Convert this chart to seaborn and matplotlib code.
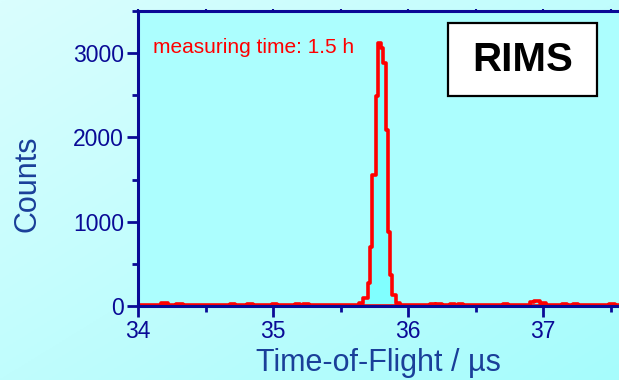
import numpy as np
import matplotlib.pyplot as plt
import matplotlib.patches as patches
from matplotlib.colors import LinearSegmentedColormap
from matplotlib.ticker import MultipleLocator
import seaborn as sns

# time-of-flight bin edges (us) and counts per bin
tof_edges = [34.00, 34.17, 34.22, 34.28, 34.33, 34.68, 34.72, 34.81, 34.85, 34.99,
             35.03, 35.16, 35.20, 35.22, 35.27, 35.64, 35.667, 35.704, 35.719, 35.731,
             35.763, 35.778, 35.797, 35.815, 35.837, 35.854, 35.867, 35.885, 35.911, 35.94,
             36.16, 36.20, 36.21, 36.25, 36.31, 36.35, 36.37, 36.41, 36.70, 36.74,
             36.90, 36.93, 36.98, 37.02, 37.14, 37.18, 37.22, 37.26, 37.49, 37.53, 37.70]
counts = [8, 30, 8, 28, 8, 28, 8, 25, 8, 28,
          8, 25, 10, 28, 8, 30, 95, 270, 700, 1560,
          2490, 3115, 3060, 2880, 2090, 880, 370, 130, 30, 8,
          28, 10, 25, 8, 28, 10, 25, 8, 25, 8,
          45, 55, 30, 8, 28, 8, 25, 8, 28, 8]

x_ticks = [34, 35, 36, 37]
y_ticks = [0, 1000, 2000, 3000]

navy = '#0a0a96'
label_blue = '#1a3f99'
bin_centers = [(a + b) / 2 for a, b in zip(tof_edges[:-1], tof_edges[1:])]

sns.set_theme(style='ticks')
plt.rcParams['font.family'] = ['Liberation Sans', 'DejaVu Sans']

fig = plt.figure(figsize=(6.19, 3.80), dpi=100)

# light diagonal background gradient (pale top-left -> cyan bottom-right)
bg = fig.add_axes([0, 0, 1, 1], zorder=-10)
bg.axis('off')
gx, gy = np.meshgrid(np.linspace(0, 1, 200), np.linspace(0, 1, 200))
cmap = LinearSegmentedColormap.from_list('bg', ['#dafefe', '#a6fcfc'])
bg.imshow((gx + gy) / 2, cmap=cmap, aspect='auto', extent=[0, 1, 0, 1])

ax = fig.add_axes([138 / 619, 74 / 380, 481 / 619, 295 / 380])
ax.set_facecolor('#acfefe')

sns.histplot(x=bin_centers, weights=counts, bins=tof_edges, element='step',
             fill=True, facecolor='#80ffff', edgecolor='#ff0000', linewidth=2.6,
             ax=ax)

ax.set_xlim(34, 34 + 481 / 135)
ax.set_ylim(0, 3500)
ax.set_xticks(x_ticks)
ax.set_yticks(y_ticks)
ax.xaxis.set_minor_locator(MultipleLocator(0.5))
ax.yaxis.set_minor_locator(MultipleLocator(500))

for side in ['left', 'bottom', 'top']:
    ax.spines[side].set_color(navy)
    ax.spines[side].set_linewidth(2.2)
    ax.spines[side].set_zorder(3)
ax.spines['right'].set_visible(False)

ax.tick_params(which='major', direction='out', length=8, width=2, color=navy,
               labelcolor=navy, labelsize=16.5, pad=2)
ax.tick_params(which='minor', direction='out', length=4.5, width=2, color=navy)

top = ax.secondary_xaxis('top')
top.xaxis.set_major_locator(MultipleLocator(0.5))
top.tick_params(direction='inout', length=3, width=1.5, color=navy, labeltop=False)
top.spines['top'].set_visible(False)

ax.set_xlabel('Time-of-Flight / \u00b5s', fontsize=22, color=label_blue, labelpad=4)
ax.set_ylabel('Counts', fontsize=22, color=label_blue)
ax.yaxis.set_label_coords(-0.199, 0.414)

ax.text(34.111, 3000, 'measuring time: 1.5 h', color='#ff0000', fontsize=15,
        ha='left', va='baseline')

fig.patches.append(patches.Rectangle((448 / 619, 284 / 380), 149 / 619, 73 / 380,
                                     transform=fig.transFigure, facecolor='white',
                                     edgecolor='black', linewidth=1.6, zorder=5))
fig.text(523 / 619, (380 - 60) / 380, 'RIMS', fontsize=29, fontweight='bold',
         color='black', ha='center', va='center', zorder=6)

fig.savefig('out.png', dpi=100)
